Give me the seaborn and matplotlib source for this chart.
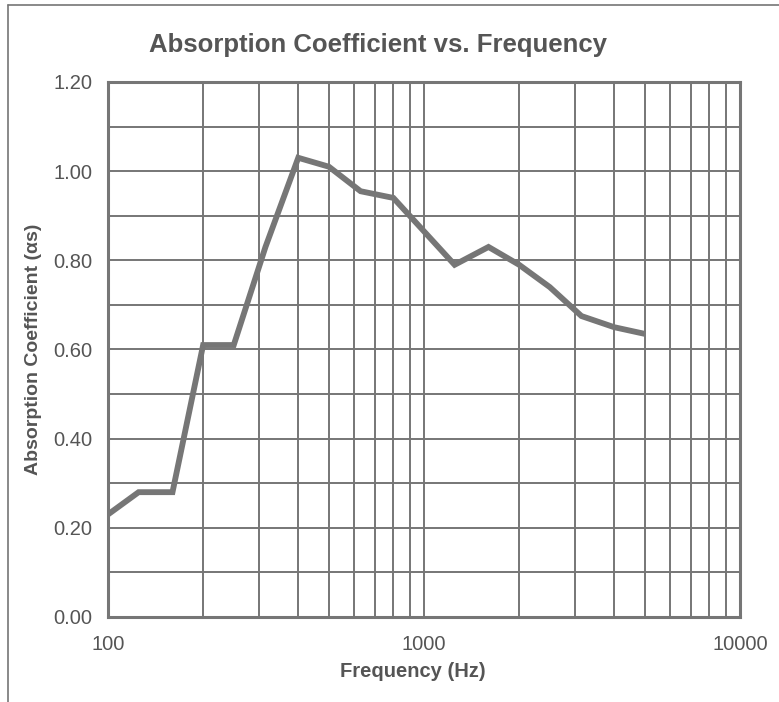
import numpy as np
import pandas as pd
import matplotlib
matplotlib.use("Agg")
import matplotlib.pyplot as plt
import seaborn as sns
from matplotlib.ticker import LogLocator, MultipleLocator, NullFormatter, FixedLocator
from matplotlib.lines import Line2D

# one-third octave band centres and measured absorption
frequency = [100, 125, 160, 200, 250, 315, 400, 500, 630, 800,
             1000, 1250, 1600, 2000, 2500, 3150, 4000, 5000]
alpha = [0.23, 0.28, 0.28, 0.61, 0.61, 0.83, 1.03, 1.01, 0.955, 0.94,
         0.865, 0.79, 0.83, 0.79, 0.74, 0.675, 0.65, 0.635]

df = pd.DataFrame({"Frequency": frequency, "Alpha": alpha})

sns.set_style("white")
plt.rcParams["font.family"] = ["Liberation Sans", "DejaVu Sans"]

gray = "#767676"
text_gray = "#555555"

fig = plt.figure(figsize=(7.79, 7.02), dpi=100)
ax = fig.add_axes([108 / 779, 1 - 617 / 702, (740 - 108) / 779, (617 - 82) / 702])

sns.lineplot(data=df, x="Frequency", y="Alpha", ax=ax, color=gray, linewidth=4.2,
             solid_joinstyle="miter", solid_capstyle="butt")

ax.set_xscale("log")
ax.set_xlim(100, 10000)
ax.set_ylim(0, 1.2)

ax.xaxis.set_major_locator(FixedLocator([100, 1000, 10000]))
ax.set_xticklabels(["100", "1000", "10000"])
ax.xaxis.set_minor_locator(LogLocator(base=10, subs=np.arange(2, 10)))
ax.xaxis.set_minor_formatter(NullFormatter())
ax.yaxis.set_major_locator(MultipleLocator(0.2))
ax.yaxis.set_minor_locator(MultipleLocator(0.1))
ax.yaxis.set_major_formatter(plt.FuncFormatter(lambda v, p: f"{v:.2f}"))

ax.grid(True, which="both", color=gray, linewidth=1.4)
ax.set_axisbelow(True)
for s in ax.spines.values():
    s.set_color(gray)
    s.set_linewidth(2.2)

ax.tick_params(axis="both", which="major", direction="out", length=5, width=1.2,
               color=gray, labelcolor=text_gray, labelsize=14.5, pad=6)
ax.tick_params(axis="x", which="minor", length=0)
ax.tick_params(axis="y", which="minor", length=0)
ax.tick_params(axis="x", which="major", pad=8)

ax.set_xlabel("Frequency (Hz)", fontsize=14.5, fontweight="bold", color=text_gray)
ax.xaxis.set_label_coords(0.482, -0.085)
ax.set_ylabel("Absorption Coefficient (\u03b1s)", fontsize=14, fontweight="bold",
              color=text_gray, labelpad=8)
fig.text(378 / 779, 1 - 45 / 702, "Absorption Coefficient vs. Frequency", ha="center",
         va="center", fontsize=18.5, fontweight="bold", color=text_gray)

# scanned page border
fig.add_artist(Line2D([8 / 779, 8 / 779], [0, 1 - 5 / 702], transform=fig.transFigure,
                      color=gray, linewidth=1.2))
fig.add_artist(Line2D([8 / 779, 1], [1 - 5 / 702, 1 - 5 / 702], transform=fig.transFigure,
                      color=gray, linewidth=1.2))

fig.savefig("out.png", dpi=100)
